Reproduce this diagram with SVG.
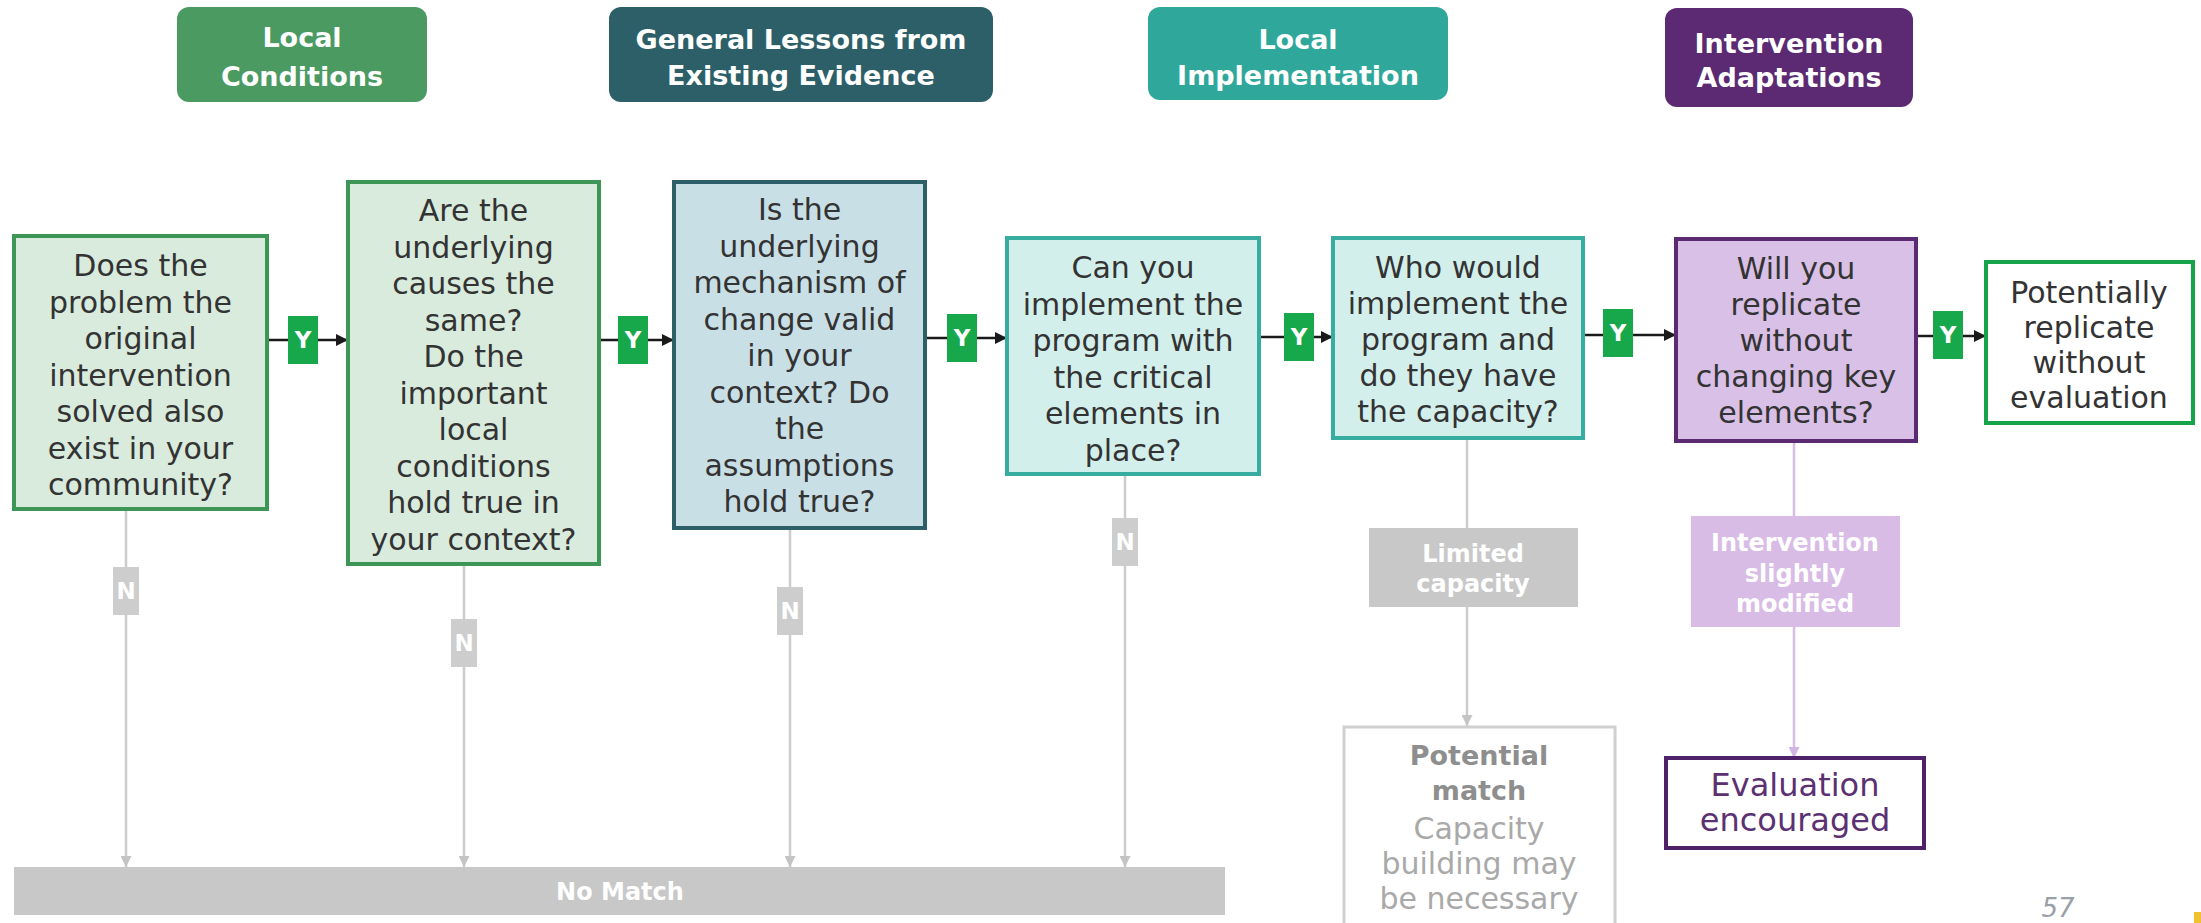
<svg xmlns="http://www.w3.org/2000/svg" width="2201" height="923" viewBox="0 0 2201 923">
<style>
.hdr{font-family:"DejaVu Sans","Liberation Sans",sans-serif;font-weight:bold;font-size:27px;fill:#ffffff;text-anchor:middle}
.q{font-family:"DejaVu Sans","Liberation Sans",sans-serif;font-size:30px;fill:#333333;text-anchor:middle}
.lbl{font-family:"DejaVu Sans","Liberation Sans",sans-serif;font-weight:bold;font-size:23px;fill:#ffffff;text-anchor:middle}
.sub{font-family:"DejaVu Sans","Liberation Sans",sans-serif;font-weight:bold;font-size:24px;fill:#ffffff;text-anchor:middle}
.pm{font-family:"DejaVu Sans","Liberation Sans",sans-serif;font-size:30px;fill:#a9a9a9;text-anchor:middle}
.pmb{font-family:"DejaVu Sans","Liberation Sans",sans-serif;font-size:27px;font-weight:bold;fill:#8e8e8e;text-anchor:middle}
.ev{font-family:"DejaVu Sans","Liberation Sans",sans-serif;font-size:32px;fill:#5b3172;text-anchor:middle}
.yl{fill:#17a84b}
.nl{fill:#cdcdcd}
.blk{stroke:#1a1a1a;stroke-width:2.5;fill:none}
.gry{stroke:#cccccc;stroke-width:2.5;fill:none}
.lav{stroke:#d6bde4;stroke-width:2.5;fill:none}
.green{fill:#d8ebdd;stroke:#3d9655;stroke-width:4}
.blue{fill:#c9dfe6;stroke:#2d5f69;stroke-width:4}
.teal{fill:#d3efec;stroke:#36ada0;stroke-width:4}
.purp{fill:#d9c0e6;stroke:#5b2a73;stroke-width:4}
</style>
<defs>
<marker id="ab" viewBox="0 0 10 10" refX="10" refY="5" markerWidth="14" markerHeight="12" markerUnits="userSpaceOnUse" orient="auto"><path d="M0,0 L10,5 L0,10 z" fill="#1a1a1a"/></marker>
<marker id="ag" viewBox="0 0 10 10" refX="10" refY="5" markerWidth="14" markerHeight="11" markerUnits="userSpaceOnUse" orient="auto"><path d="M0,0 L10,5 L0,10 z" fill="#c4c4c4"/></marker>
<marker id="al" viewBox="0 0 10 10" refX="10" refY="5" markerWidth="14" markerHeight="11" markerUnits="userSpaceOnUse" orient="auto"><path d="M0,0 L10,5 L0,10 z" fill="#d2b6e2"/></marker>
</defs>
<rect width="2201" height="923" fill="#ffffff"/>

<g id="hdr-local-conditions">
<rect x="177" y="7" width="250" height="95" rx="12" fill="#4b9a62"/>
<text class="hdr" x="302" y="47">Local</text>
<text class="hdr" x="302" y="86">Conditions</text>
</g>
<g id="hdr-general-lessons">
<rect x="609" y="7" width="384" height="95" rx="12" fill="#2d5f69"/>
<text class="hdr" x="801" y="49">General Lessons from</text>
<text class="hdr" x="801" y="85">Existing Evidence</text>
</g>
<g id="hdr-local-implementation">
<rect x="1148" y="7" width="300" height="93" rx="12" fill="#2fa89b"/>
<text class="hdr" x="1298" y="49">Local</text>
<text class="hdr" x="1298" y="85">Implementation</text>
</g>
<g id="hdr-intervention-adaptations">
<rect x="1665" y="8" width="248" height="99" rx="12" fill="#5b2a73"/>
<text class="hdr" x="1789" y="53">Intervention</text>
<text class="hdr" x="1789" y="87">Adaptations</text>
</g>

<g id="connectors">
<path class="blk" d="M267,340 H348" marker-end="url(#ab)"/>
<path class="blk" d="M599,340 H674" marker-end="url(#ab)"/>
<path class="blk" d="M925,338 H1007" marker-end="url(#ab)"/>
<path class="blk" d="M1240,337 H1333" marker-end="url(#ab)"/>
<path class="blk" d="M1583,335 H1676" marker-end="url(#ab)"/>
<path class="blk" d="M1916,336 H1986" marker-end="url(#ab)"/>
<path class="gry" d="M126,509 V867" marker-end="url(#ag)"/>
<path class="gry" d="M464,564 V867" marker-end="url(#ag)"/>
<path class="gry" d="M790,528 V867" marker-end="url(#ag)"/>
<path class="gry" d="M1125,474 V867" marker-end="url(#ag)"/>
<path class="gry" d="M1467,438 V528"/>
<path class="gry" d="M1467,607 V726" marker-end="url(#ag)"/>
<path class="lav" d="M1794,441 V516"/>
<path class="lav" d="M1794,627 V758" marker-end="url(#al)"/>
<g id="y-labels">
<rect class="yl" x="288" y="316" width="30" height="48"/><text class="lbl" x="303" y="348">Y</text>
<rect class="yl" x="618" y="316" width="30" height="48"/><text class="lbl" x="633" y="348">Y</text>
<rect class="yl" x="947" y="314" width="30" height="48"/><text class="lbl" x="962" y="346">Y</text>
<rect class="yl" x="1284" y="313" width="30" height="48"/><text class="lbl" x="1299" y="345">Y</text>
<rect class="yl" x="1603" y="309" width="30" height="48"/><text class="lbl" x="1618" y="341">Y</text>
<rect class="yl" x="1933" y="311" width="30" height="48"/><text class="lbl" x="1948" y="343">Y</text>
</g>
<g id="n-labels">
<rect class="nl" x="113" y="567" width="26" height="48"/><text class="lbl" x="126" y="599">N</text>
<rect class="nl" x="451" y="619" width="26" height="48"/><text class="lbl" x="464" y="651">N</text>
<rect class="nl" x="777" y="587" width="26" height="48"/><text class="lbl" x="790" y="619">N</text>
<rect class="nl" x="1112" y="518" width="26" height="48"/><text class="lbl" x="1125" y="550">N</text>
</g>
</g>

<g id="q1">
<rect class="green" x="14" y="236" width="253" height="273"/>
<text class="q" x="140.5" y="276">Does the</text>
<text class="q" x="140.5" y="312.5">problem the</text>
<text class="q" x="140.5" y="349">original</text>
<text class="q" x="140.5" y="385.5">intervention</text>
<text class="q" x="140.5" y="422">solved also</text>
<text class="q" x="140.5" y="458.5">exist in your</text>
<text class="q" x="140.5" y="495">community?</text>
</g>
<g id="q2">
<rect class="green" x="348" y="182" width="251" height="382"/>
<text class="q" x="473.5" y="221">Are the</text>
<text class="q" x="473.5" y="257.5">underlying</text>
<text class="q" x="473.5" y="294">causes the</text>
<text class="q" x="473.5" y="330.5">same?</text>
<text class="q" x="473.5" y="367">Do the</text>
<text class="q" x="473.5" y="403.5">important</text>
<text class="q" x="473.5" y="440">local</text>
<text class="q" x="473.5" y="476.5">conditions</text>
<text class="q" x="473.5" y="513">hold true in</text>
<text class="q" x="473.5" y="549.5">your context?</text>
</g>
<g id="q3">
<rect class="blue" x="674" y="182" width="251" height="346"/>
<text class="q" x="799.5" y="220">Is the</text>
<text class="q" x="799.5" y="256.5">underlying</text>
<text class="q" x="799.5" y="293">mechanism of</text>
<text class="q" x="799.5" y="329.5">change valid</text>
<text class="q" x="799.5" y="366">in your</text>
<text class="q" x="799.5" y="402.5">context? Do</text>
<text class="q" x="799.5" y="439">the</text>
<text class="q" x="799.5" y="475.5">assumptions</text>
<text class="q" x="799.5" y="512">hold true?</text>
</g>
<g id="q4">
<rect class="teal" x="1007" y="238" width="252" height="236"/>
<text class="q" x="1133" y="278">Can you</text>
<text class="q" x="1133" y="314.5">implement the</text>
<text class="q" x="1133" y="351">program with</text>
<text class="q" x="1133" y="387.5">the critical</text>
<text class="q" x="1133" y="424">elements in</text>
<text class="q" x="1133" y="460.5">place?</text>
</g>
<g id="q5">
<rect class="teal" x="1333" y="238" width="250" height="200"/>
<text class="q" x="1458" y="278">Who would</text>
<text class="q" x="1458" y="314">implement the</text>
<text class="q" x="1458" y="350">program and</text>
<text class="q" x="1458" y="386">do they have</text>
<text class="q" x="1458" y="422">the capacity?</text>
</g>
<g id="q6">
<rect class="purp" x="1676" y="239" width="240" height="202"/>
<text class="q" x="1796" y="279">Will you</text>
<text class="q" x="1796" y="315">replicate</text>
<text class="q" x="1796" y="351">without</text>
<text class="q" x="1796" y="387">changing key</text>
<text class="q" x="1796" y="423">elements?</text>
</g>
<g id="out-replicate">
<rect x="1986" y="262" width="207" height="161" fill="#ffffff" stroke="#17a34a" stroke-width="4"/>
<text class="q" x="2089" y="303">Potentially</text>
<text class="q" x="2089" y="338">replicate</text>
<text class="q" x="2089" y="373">without</text>
<text class="q" x="2089" y="408">evaluation</text>
</g>
<g id="no-match">
<rect x="14" y="867" width="1211" height="48" fill="#c8c8c8"/>
<text class="sub" x="620" y="900">No Match</text>
</g>
<g id="limited-capacity">
<rect x="1369" y="528" width="209" height="79" fill="#c8c8c8"/>
<text class="sub" x="1473" y="562">Limited</text>
<text class="sub" x="1473" y="592">capacity</text>
</g>
<g id="potential-match">
<rect x="1344" y="727" width="271" height="205" fill="#ffffff" stroke="#d0d0d0" stroke-width="3"/>
<text class="pmb" x="1479" y="765">Potential</text>
<text class="pmb" x="1479" y="800">match</text>
<text class="pm" x="1479" y="839">Capacity</text>
<text class="pm" x="1479" y="874">building may</text>
<text class="pm" x="1479" y="909">be necessary</text>
</g>
<g id="slightly-modified">
<rect x="1691" y="516" width="209" height="111" fill="#d8bce6"/>
<text class="sub" x="1795" y="551">Intervention</text>
<text class="sub" x="1795" y="582">slightly</text>
<text class="sub" x="1795" y="612">modified</text>
</g>
<g id="evaluation-encouraged">
<rect x="1666" y="758" width="258" height="90" fill="#ffffff" stroke="#4f2169" stroke-width="4"/>
<text class="ev" x="1795" y="796">Evaluation</text>
<text class="ev" x="1795" y="831">encouraged</text>
</g>
<text x="2058" y="917" font-family="DejaVu Sans, sans-serif" font-size="26" fill="#9aa0a8" text-anchor="middle" font-style="italic">57</text>
<rect x="2194" y="912" width="7" height="11" fill="#f2c12e"/>
</svg>
